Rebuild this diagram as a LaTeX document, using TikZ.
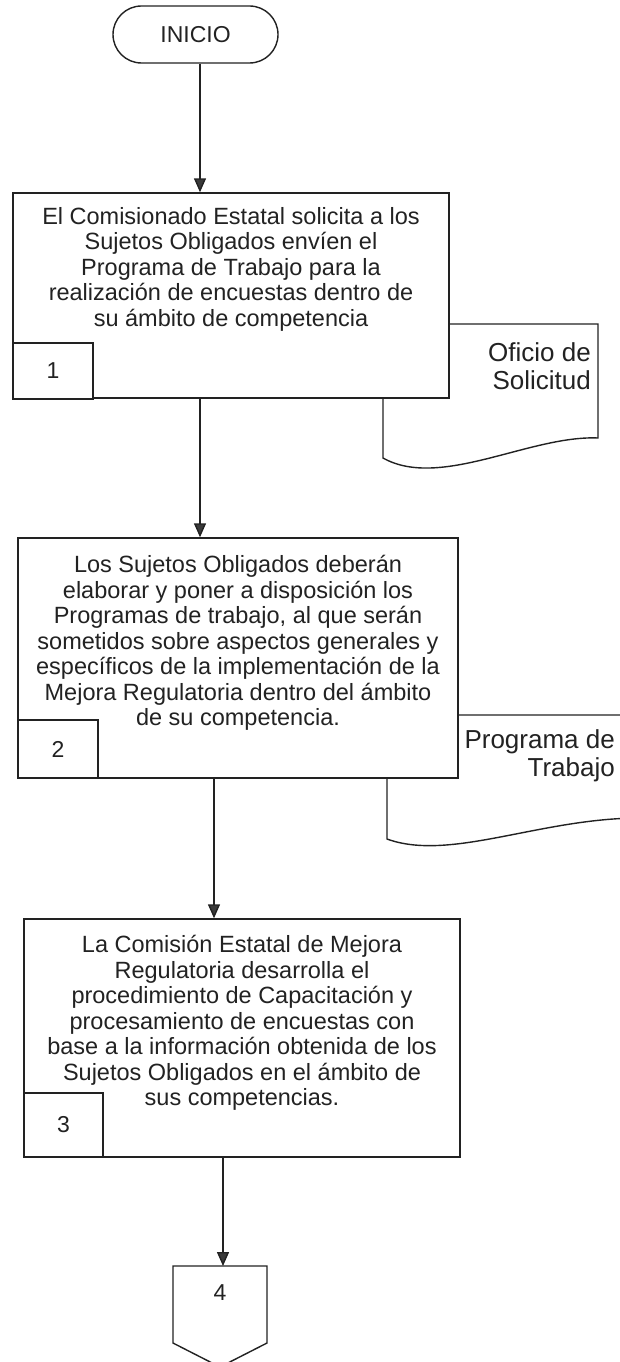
\documentclass[tikz,border=0pt]{standalone}
\usepackage{fontspec}
\setmainfont{Liberation Sans}
\usetikzlibrary{arrows.meta,shapes.misc}
\definecolor{ink}{HTML}{222222}
\definecolor{tip}{HTML}{3a3a3a}
\tikzset{
  box/.style={draw=ink, line width=1.4pt, fill=white, rectangle, inner sep=0pt},
  txt/.style={text=ink, align=center, inner sep=0pt, font=\fontsize{23.5pt}{25.5pt}\selectfont},
  doctxt/.style={text=ink, align=right, inner sep=0pt, font=\fontsize{26pt}{28pt}\selectfont},
  numtxt/.style={text=ink, font=\fontsize{23pt}{26pt}\selectfont},
  shapeline/.style={draw=ink, line width=1.4pt, fill=white},
  arr/.style={draw=ink, line width=1.4pt, -{Triangle[length=14pt,width=12pt,fill=tip]}}
}
\begin{document}
\begin{tikzpicture}[x=1pt,y=-1pt]
\useasboundingbox (0,0) rectangle (620,1362);
\fill[white] (0,0) rectangle (620,1362);
\clip (0,0) rectangle (620,1362);

% INICIO
\node[draw=ink, line width=1.4pt, rounded rectangle, minimum width=165pt, minimum height=57pt, inner sep=0pt,
      text=ink, font=\fontsize{23pt}{26pt}\selectfont] (inicio) at (195.5,34.5) {INICIO};

% documents (drawn first, boxes overlap them)
\draw[shapeline] (383,324) -- (598,324) -- (598,438)
   .. controls (530,435) and (440,490) .. (383,458) -- cycle;
\node[doctxt, anchor=east] (d1) at (591,366) {Oficio de\\Solicitud};

\draw[shapeline] (387,715) -- (640,715) -- (640,818)
   .. controls (540,818) and (450,862) .. (387,839) -- cycle;
\node[doctxt, anchor=east] (d2) at (615,756) {Programa de\\Trabajo};

% step 1
\node[box, minimum width=436pt, minimum height=205pt] (box1) at (231,295.5) {};
\node[txt, anchor=north] (t1) at (231,207) {El Comisionado Estatal solicita a los\\Sujetos Obligados envíen el\\Programa de Trabajo para la\\realización de encuestas dentro de\\su ámbito de competencia};
\node[box, minimum width=80pt, minimum height=56pt, numtxt] (n1) at (53,371) {1};

% step 2
\node[box, minimum width=440pt, minimum height=240pt] (box2) at (238,658) {};
\node[txt, anchor=north] (t2) at (238,555) {Los Sujetos Obligados deberán\\elaborar y poner a disposición los\\Programas de trabajo, al que serán\\sometidos sobre aspectos generales y\\específicos de la implementación de la\\Mejora Regulatoria dentro del ámbito\\de su competencia.};
\node[box, minimum width=80pt, minimum height=58pt, numtxt] (n2) at (58,749) {2};

% step 3
\node[box, minimum width=436pt, minimum height=238pt] (box3) at (242,1038) {};
\node[txt, anchor=north] (t3) at (242,935) {La Comisión Estatal de Mejora\\Regulatoria desarrolla el\\procedimiento de Capacitación y\\procesamiento de encuestas con\\base a la información obtenida de los\\Sujetos Obligados en el ámbito de\\sus competencias.};
\node[box, minimum width=79pt, minimum height=64pt, numtxt] (n3) at (63.5,1125) {3};

% off-page connector
\draw[shapeline] (173,1266) -- (267,1266) -- (267,1343) -- (220,1367) -- (173,1343) -- cycle;
\node[numtxt] (n4) at (220,1293) {4};
\coordinate (c4) at (223,1266);

% connectors
\coordinate (a1) at (200,0);
\coordinate (a2) at (200,0);
\coordinate (a3) at (214,0);
\draw[arr] (inicio.south -| a1) -- (box1.north -| a1);
\draw[arr] (box1.south -| a2) -- (box2.north -| a2);
\draw[arr] (box2.south -| a3) -- (box3.north -| a3);
\draw[arr] (box3.south -| c4) -- (c4);
\end{tikzpicture}
\end{document}
